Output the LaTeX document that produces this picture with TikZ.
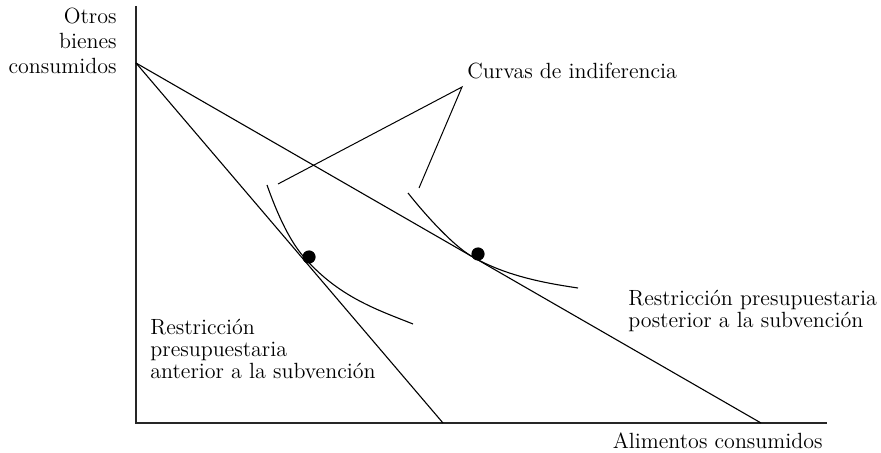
\documentclass[tikz,border=0pt]{standalone}
\begin{document}
\begin{tikzpicture}[x=0.5pt,y=-0.5pt,
  axis/.style={black!85,line width=0.8pt},
  budget/.style={black,line width=0.55pt},
  indiff/.style={black,line width=0.55pt},
  leader/.style={black,line width=0.5pt},
  optimum/.style={circle,fill=black,inner sep=0pt,minimum size=6.6pt},
  lbl/.style={inner sep=0pt,font=\fontsize{11}{11}\selectfont}]
\useasboundingbox (0,0) rectangle (881,453);
\coordinate (ytop) at (136,6);
\coordinate (origin) at (136,423);
\coordinate (xend) at (827,423);
\coordinate (intercept) at (136,63);
\coordinate (before) at (443,423);
\coordinate (after) at (761,423);
\draw[axis] (ytop) -- (origin) -- (xend);
\draw[budget] (intercept) -- (before);
\draw[budget] (intercept) -- (after);
% indifference curves
\draw[indiff] (267,185) .. controls (279,219) and (291,242) .. (303,256)
  .. controls (338,297) and (378,310) .. (413,324);
\draw[indiff] (408,193) .. controls (423,212) and (452,245) .. (472,256.5)
  .. controls (507,276.7) and (548,283.5) .. (578,288);
\node[optimum] (opt1) at (309,257) {};
\node[optimum] (opt2) at (478,254) {};
% labels
\node[lbl,anchor=base west] (curves) at (467,79) {Curvas de indiferencia};
\coordinate (apex) at (462,87);
\coordinate (lead1) at (278,184);
\coordinate (lead2) at (419,188);
\draw[leader] (lead1) -- (apex) -- (lead2);
\node[lbl,font=\fontsize{11}{12.5}\selectfont,align=right,anchor=north east] (yname) at (117,7.5) {Otros\\bienes\\consumidos};
\node[lbl,align=left,anchor=north west] (bname) at (150,318.6) {Restricción\\presupuestaria\\anterior a la subvención};
\node[lbl,align=left,anchor=north west] (aname) at (628,289.6) {Restricción presupuestaria\\posterior a la subvención};
\node[lbl,anchor=base east] (xname) at (823,448) {Alimentos consumidos};
\end{tikzpicture}
\end{document}
